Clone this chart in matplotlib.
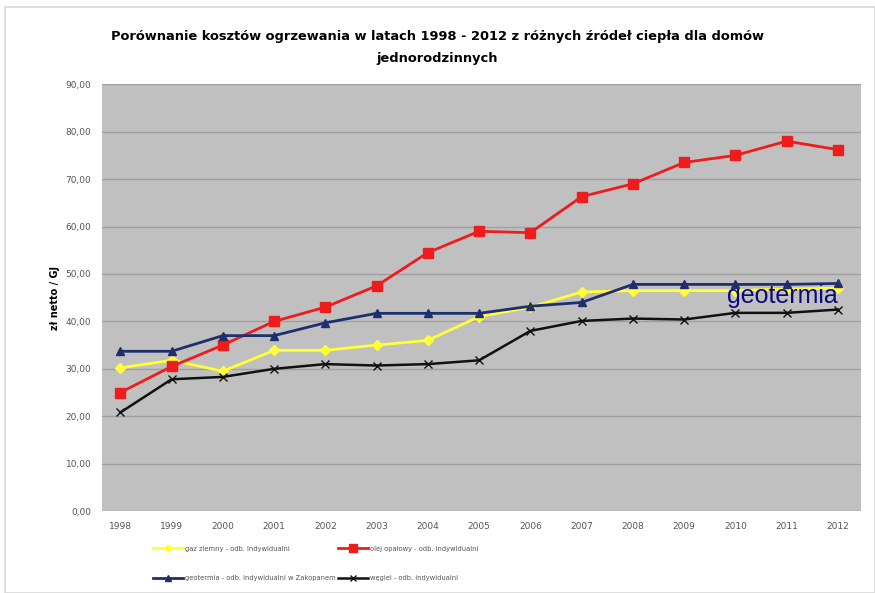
import matplotlib
matplotlib.use("Agg")
import matplotlib.pyplot as plt
from matplotlib.patches import Rectangle
from matplotlib.ticker import FuncFormatter

years = [str(y) for y in range(1998, 2013)]
gaz = [30.2, 31.8, 29.5, 33.9, 33.9, 35.0, 36.0, 41.0, 43.0, 46.2, 46.5, 46.5, 46.5, 46.8, 47.0]
olej = [25.0, 30.5, 35.0, 40.0, 43.0, 47.5, 54.5, 59.0, 58.7, 66.3, 69.0, 73.5, 75.0, 78.0, 76.2]
geotermia = [33.7, 33.7, 37.0, 37.0, 39.7, 41.7, 41.7, 41.7, 43.2, 44.0, 47.8, 47.8, 47.8, 47.8, 48.0]
wegiel = [20.8, 27.8, 28.3, 30.0, 31.0, 30.7, 31.0, 31.8, 38.0, 40.1, 40.6, 40.4, 41.8, 41.8, 42.5]

labels = [
    "gaz ziemny - odb. indywidualni",
    "olej opałowy - odb. indywidualni",
    "geotermia - odb. indywidualni w Zakopanem",
    "węgiel - odb. indywidualni",
]

fig = plt.figure(figsize=(8.75, 5.93), dpi=100)
fig.patches.append(Rectangle((0.006, 0.0), 0.994, 0.988, transform=fig.transFigure,
                             fill=False, edgecolor="#d8d8d8", linewidth=1.2))

ax = fig.add_axes([0.117, 0.138, 0.867, 0.72])
ax.set_facecolor("#c0c0c0")
x = list(range(len(years)))

l_gaz, = ax.plot(x, gaz, color="#ffff33", marker="D", markersize=5, linewidth=2)
l_olej, = ax.plot(x, olej, color="#ee1c1c", marker="s", markersize=7.5, linewidth=2)
l_geo, = ax.plot(x, geotermia, color="#1f2f6e", marker="^", markersize=6, linewidth=2)
l_weg, = ax.plot(x, wegiel, color="#111111", marker="x", markersize=6, linewidth=1.8)

ax.text(14, 45.3, "geotermia", color="#0a0a80", fontsize=18, ha="right", va="center",
        family="Liberation Sans")

ax.set_xlim(-0.35, 14.45)
ax.set_ylim(0, 90)
ax.set_yticks(range(0, 91, 10))
ax.yaxis.set_major_formatter(FuncFormatter(lambda v, p: f"{v:.2f}".replace(".", ",")))
ax.set_xticks(x)
ax.set_xticklabels(years)
ax.grid(axis="y", color="#a0a0a0", linewidth=1)
ax.set_axisbelow(True)
for s in ax.spines.values():
    s.set_visible(False)
ax.tick_params(axis="both", length=0, labelsize=6.5, labelcolor="#555555", pad=8)
ax.set_ylabel("zł netto / GJ", fontsize=7, fontweight="bold", labelpad=4)

fig.suptitle("Porównanie kosztów ogrzewania w latach 1998 - 2012 z różnych źródeł ciepła dla domów\njednorodzinnych",
             fontsize=9.4, fontweight="bold", y=0.95, linespacing=1.95)

# column-major fill -> rows: gaz/olej, geotermia/wegiel
handles = [l_gaz, l_geo, l_olej, l_weg]
leg_labels = [labels[0], labels[2], labels[1], labels[3]]
fig.legend(handles, leg_labels, loc="lower left", bbox_to_anchor=(0.168, 0.01), ncol=2,
           frameon=False, fontsize=4.9, labelcolor="#555555", handlelength=4.4,
           columnspacing=0.3, handletextpad=0.3, labelspacing=3.4, markerscale=0.7)

plt.savefig("out.png", dpi=100)
